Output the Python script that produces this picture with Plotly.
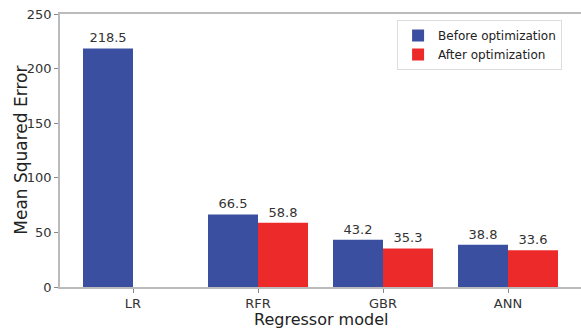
import plotly.graph_objects as go

categories = ["LR", "RFR", "GBR", "ANN"]
before_opt = [218.5, 66.5, 43.2, 38.8]
after_opt = [None, 58.8, 35.3, 33.6]
y_ticks = [0, 50, 100, 150, 200, 250]

BLUE = "#3a4f9f"
RED = "#ec2a2a"
FONT = "DejaVu Sans"

fig = go.Figure()
fig.add_trace(go.Bar(
    x=categories, y=before_opt, name="Before optimization",
    marker=dict(color=BLUE, line=dict(width=0)),
    texttemplate="%{y:.1f}", textposition="outside",
    textfont=dict(family=FONT, size=13, color="#333"), cliponaxis=False,
))
fig.add_trace(go.Bar(
    x=categories, y=after_opt, name="After optimization",
    marker=dict(color=RED, line=dict(width=0)),
    texttemplate="%{y:.1f}", textposition="outside",
    textfont=dict(family=FONT, size=13, color="#333"), cliponaxis=False,
))

fig.update_layout(
    width=590, height=330,
    margin=dict(l=60, r=0, t=14, b=43, autoexpand=False),
    barmode="group", bargap=0.2, bargroupgap=0,
    plot_bgcolor="white", paper_bgcolor="white",
    font=dict(family=FONT, color="#333"),
    legend=dict(
        x=0.636, y=0.978, xanchor="left", yanchor="top",
        bordercolor="#dddddd", borderwidth=1, bgcolor="white",
        font=dict(family=FONT, size=12, color="#222"),
        tracegroupgap=2,
    ),
    xaxis=dict(
        range=[-0.584, 3.656], automargin=False,
        showline=True, linecolor="#bbbbbb", linewidth=1.5, mirror=True,
        ticks="outside", ticklen=4, tickcolor="#888",
        tickfont=dict(family=FONT, size=13, color="#333"),
        showgrid=False,
    ),
    yaxis=dict(
        range=[0, 250], tickvals=y_ticks, automargin=False,
        showline=True, linecolor="#bbbbbb", linewidth=1.5,
        ticks="outside", ticklen=4, tickcolor="#888",
        tickfont=dict(family=FONT, size=13, color="#333"),
        showgrid=False, zeroline=False,
    ),
    annotations=[
        dict(
            text="Mean Squared Error", textangle=-90,
            xref="paper", yref="paper", x=-0.075, y=0.5,
            xanchor="center", yanchor="middle", showarrow=False,
            font=dict(family=FONT, size=17, color="#222"),
        ),
        dict(
            text="Regressor model",
            xref="paper", yref="paper", x=0.4925, y=-0.12,
            xanchor="center", yanchor="middle", showarrow=False,
            font=dict(family=FONT, size=16, color="#222"),
        ),
    ],
)

fig.write_html(
    "out.html",
    config={"displayModeBar": False},
    post_script="document.body.style.margin='0px'; document.body.style.overflow='hidden';",
)
